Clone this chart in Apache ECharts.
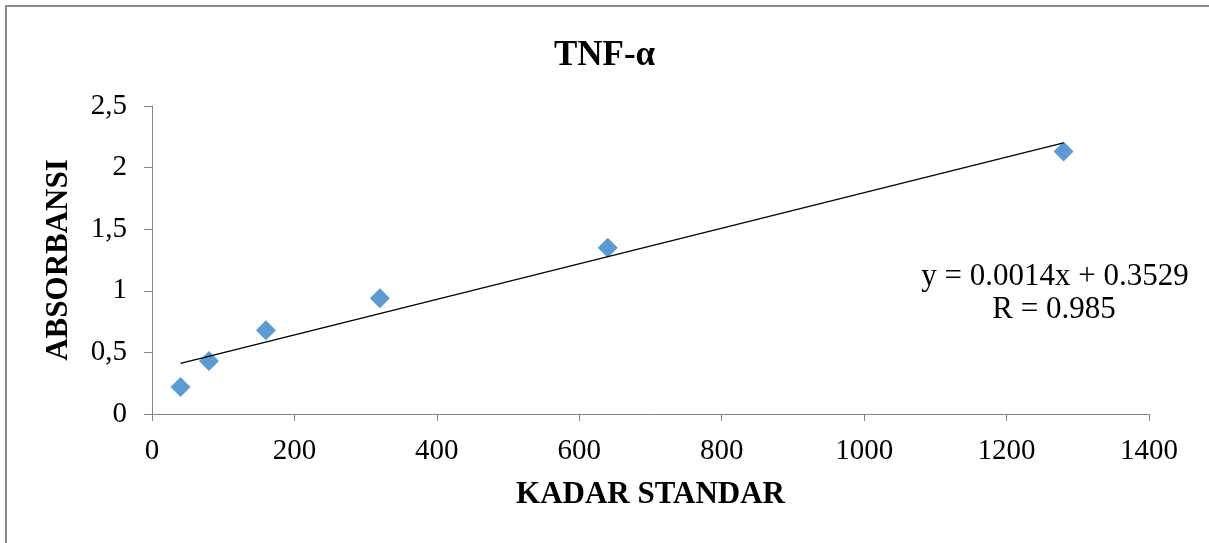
<!DOCTYPE html>
<html>
<head>
<meta charset="utf-8">
<script src="https://cdn.jsdelivr.net/npm/echarts@6/dist/echarts.min.js"></script>
<style>
  html, body { margin: 0; padding: 0; background: #fff; }
  #chart { width: 1209px; height: 543px; }
</style>
</head>
<body>
<div id="chart"></div>
<script>
// kadar standar (x) vs absorbansi (y)
var kadar = [40, 80, 160, 320, 640, 1280];
var absorbansi = [0.22, 0.43, 0.68, 0.94, 1.35, 2.13];
// trendline endpoints
var trendX = [40, 1280];
var trendY = [0.41, 2.2];
var equationText = 'y = 0.0014x + 0.3529';
var rText = 'R = 0.985';

var points = kadar.map(function (x, i) { return [x, absorbansi[i]]; });
var trend = trendX.map(function (x, i) { return [x, trendY[i]]; });

var font = 'Liberation Serif';
var axisColor = '#868686';

var myChart = echarts.init(document.getElementById('chart'));
var option = {
    backgroundColor: '#fff',
    animation: false,
    title: {
        text: 'TNF-α',
        left: 'center',
        top: 33,
        textStyle: {fontFamily: font, fontSize: 35, fontWeight: 'bold', color: '#000'}
    },
    grid: {
        left: 152,
        right: 60,
        top: 106,
        bottom: 129,
        containLabel: false,
        outerBoundsMode: 'none'
    },
    xAxis: {
        type: 'value',
        min: 0,
        max: 1400,
        interval: 200,
        name: 'KADAR STANDAR',
        nameLocation: 'middle',
        nameGap: 65,
        nameTextStyle: {fontFamily: font, fontSize: 31, fontWeight: 'bold', color: '#000'},
        axisLine: {show: true, lineStyle: {color: axisColor, width: 1}},
        axisTick: {show: true, length: 7, lineStyle: {color: axisColor}},
        axisLabel: {
            fontFamily: font, fontSize: 29, color: '#000', margin: 23,
            formatter: function (v) { return String(v); }
        },
        splitLine: {show: false}
    },
    yAxis: {
        type: 'value',
        min: 0,
        max: 2.5,
        interval: 0.5,
        name: 'ABSORBANSI',
        nameLocation: 'middle',
        nameGap: 78,
        nameTextStyle: {fontFamily: font, fontSize: 31, fontWeight: 'bold', color: '#000'},
        axisLine: {show: true, lineStyle: {color: axisColor, width: 1}},
        axisTick: {show: true, length: 8, lineStyle: {color: axisColor}},
        axisLabel: {
            fontFamily: font, fontSize: 29, color: '#000', margin: 25,
            formatter: function (v) { return String(v).replace('.', ','); }
        },
        splitLine: {show: false}
    },
    graphic: [
        {
            type: 'polyline',
            shape: {points: [[6, 543], [6, 6], [1209, 6]]},
            style: {stroke: '#8c8c8c', lineWidth: 2, fill: null},
            silent: true
        },
        {
            type: 'text',
            x: 1055,
            y: 277,
            style: {
                text: equationText, font: '31px "Liberation Serif"', fill: '#000',
                align: 'center', verticalAlign: 'middle'
            }
        },
        {
            type: 'text',
            x: 1054,
            y: 310,
            style: {
                text: rText, font: '31px "Liberation Serif"', fill: '#000',
                align: 'center', verticalAlign: 'middle'
            }
        }
    ],
    series: [
        {
            type: 'line',
            data: trend,
            showSymbol: false,
            symbol: 'none',
            lineStyle: {color: '#000', width: 1.3},
            z: 3
        },
        {
            type: 'scatter',
            data: points,
            symbol: 'diamond',
            symbolSize: [20, 20],
            itemStyle: {color: '#5B9BD5', opacity: 1},
            z: 2
        }
    ]
};
myChart.setOption(option);
</script>
</body>
</html>
